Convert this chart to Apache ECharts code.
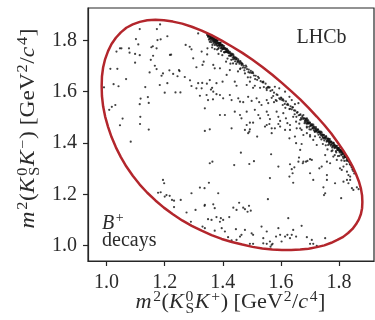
<!DOCTYPE html>
<html><head><meta charset="utf-8">
<script src="https://cdn.jsdelivr.net/npm/echarts@6/dist/echarts.min.js"></script>
<style>html,body{margin:0;padding:0;background:#fff;}#chart{width:375px;height:320px;}</style>
</head><body><div id="chart"></div>
<script>
// Axis ticks
const xTicks = [1.0, 1.2, 1.4, 1.6, 1.8];
const yTicks = [1.0, 1.2, 1.4, 1.6, 1.8];

// Kinematic boundary of D -> KS K+ K- : [m2(KS K+), m2(KS K-)], GeV^2/c^4
const boundary = [
[0.983,1.621],[0.984,1.583],[0.988,1.543],[0.995,1.503],[1.005,1.463],[1.017,1.423],[1.032,1.383],[1.049,1.345],
[1.068,1.308],[1.090,1.272],[1.114,1.238],[1.140,1.206],[1.168,1.176],[1.197,1.148],[1.228,1.122],[1.260,1.098],
[1.293,1.077],[1.327,1.058],[1.361,1.041],[1.396,1.026],[1.431,1.014],[1.467,1.004],[1.502,0.995],[1.536,0.989],
[1.570,0.985],[1.603,0.983],[1.635,0.983],[1.666,0.985],[1.695,0.988],[1.723,0.994],[1.749,1.001],[1.773,1.011],
[1.794,1.022],[1.814,1.034],[1.831,1.049],[1.846,1.065],[1.858,1.083],[1.868,1.102],[1.875,1.123],[1.879,1.146],
[1.880,1.170],[1.879,1.195],[1.875,1.222],[1.868,1.250],[1.858,1.279],[1.846,1.309],[1.831,1.340],
[1.814,1.371],[1.794,1.404],[1.773,1.437],[1.749,1.470],[1.723,1.503],[1.695,1.537],[1.666,1.570],[1.635,1.602],
[1.603,1.634],[1.570,1.666],[1.536,1.696],[1.502,1.724],[1.467,1.751],[1.431,1.776],[1.396,1.799],[1.361,1.820],
[1.327,1.838],[1.293,1.853],[1.260,1.865],[1.228,1.873],[1.197,1.878],[1.168,1.880],[1.140,1.878],[1.114,1.872],
[1.090,1.862],[1.068,1.849],[1.049,1.831],[1.032,1.810],[1.017,1.786],[1.005,1.758],[0.995,1.727],[0.988,1.694],
[0.984,1.659],[0.983,1.621]
];

// Candidates spread over the Dalitz plane
const events = [
[1.114,1.844],[1.173,1.844],[1.184,1.862],[1.101,1.805],[1.175,1.801],[1.186,1.804],[1.209,1.816],[1.046,1.769],
[1.051,1.769],[1.077,1.769],[1.109,1.784],[1.154,1.773],[1.159,1.777],[1.172,1.769],[1.034,1.756],[1.079,1.752],
[1.098,1.747],[1.114,1.742],[1.160,1.740],[1.218,1.743],[1.222,1.744],[1.272,1.782],[1.292,1.765],[1.327,1.756],
[1.347,1.769],[1.098,1.713],[1.152,1.724],[1.298,1.730],[1.334,1.717],[1.330,1.704],[1.309,1.695],[1.166,1.701],
[1.172,1.688],[1.013,1.689],[1.037,1.689],[1.216,1.683],[1.249,1.684],[1.251,1.680],[1.148,1.675],[1.194,1.671],
[1.189,1.662],[1.229,1.669],[1.244,1.660],[1.269,1.657],[1.287,1.644],[1.067,1.649],[1.315,1.633],[1.329,1.634],
[1.345,1.631],[1.209,1.633],[1.024,1.629],[1.041,1.621],[1.133,1.618],[1.183,1.626],[1.292,1.622],[1.309,1.613],
[1.327,1.613],[0.991,1.617],[1.359,1.608],[1.363,1.615],[1.200,1.596],[1.237,1.597],[1.254,1.597],[1.321,1.584],
[1.344,1.587],[1.117,1.573],[1.142,1.579],[1.366,1.570],[1.030,1.548],[1.018,1.541],[1.009,1.529],[1.114,1.551],
[1.145,1.556],[1.116,1.502],[1.055,1.495],[1.046,1.469],[1.115,1.474],[1.145,1.452],[1.338,1.447],[1.355,1.453],
[1.346,1.745],[1.367,1.704],[1.372,1.691],[1.390,1.691],[1.435,1.710],[1.424,1.684],[1.461,1.691],[1.476,1.671],
[1.413,1.665],[1.355,1.645],[1.378,1.633],[1.399,1.639],[1.441,1.639],[1.447,1.623],[1.482,1.626],[1.493,1.639],
[1.504,1.615],[1.510,1.623],[1.539,1.639],[1.551,1.606],[1.556,1.619],[1.579,1.619],[1.594,1.613],[1.614,1.600],
[1.629,1.580],[1.367,1.600],[1.378,1.590],[1.390,1.587],[1.349,1.567],[1.401,1.574],[1.424,1.587],[1.430,1.567],
[1.453,1.574],[1.459,1.561],[1.470,1.559],[1.487,1.580],[1.499,1.564],[1.516,1.574],[1.525,1.559],[1.533,1.548],
[1.551,1.567],[1.556,1.555],[1.568,1.576],[1.576,1.559],[1.585,1.564],[1.602,1.574],[1.606,1.548],[1.637,1.567],
[1.648,1.551],[1.660,1.555],[1.338,1.535],[1.390,1.509],[1.407,1.509],[1.441,1.522],[1.459,1.509],[1.464,1.496],
[1.482,1.522],[1.510,1.529],[1.522,1.509],[1.528,1.496],[1.551,1.522],[1.556,1.509],[1.562,1.493],[1.585,1.522],
[1.591,1.502],[1.597,1.486],[1.608,1.516],[1.617,1.496],[1.622,1.477],[1.642,1.502],[1.652,1.483],[1.666,1.490],
[1.677,1.509],[1.689,1.496],[1.482,1.470],[1.476,1.451],[1.430,1.457],[1.551,1.470],[1.568,1.457],[1.597,1.464],
[1.614,1.451],[1.631,1.470],[1.654,1.457],[1.671,1.451],[1.493,1.479],[1.504,1.479],[1.491,1.444],[1.487,1.438],
[1.493,1.453],[1.518,1.425],[1.545,1.464],[1.560,1.474],[1.568,1.438],[1.579,1.457],[1.591,1.474],[1.631,1.451],
[1.629,1.418],[1.648,1.425],[1.666,1.457],[1.677,1.431],[1.689,1.464],[1.700,1.431],[1.711,1.412],[1.723,1.392],
[1.652,1.399],[1.666,1.373],[1.671,1.396],[1.462,1.362],[1.566,1.356],[1.355,1.321],[1.364,1.327],[1.439,1.314],
[1.491,1.318],[1.507,1.329],[1.591,1.308],[1.631,1.317],[1.637,1.298],[1.646,1.305],[1.662,1.343],[1.675,1.321],
[1.686,1.327],[1.700,1.337],[1.660,1.327],[1.629,1.269],[1.640,1.282],[1.642,1.245],[1.562,1.263],[1.337,1.224],
[1.321,1.226],[1.352,1.245],[1.384,1.204],[1.555,1.181],[1.456,1.167],[1.470,1.148],[1.476,1.142],[1.490,1.155],
[1.496,1.136],[1.485,1.132],[1.367,1.161],[1.372,1.146],[1.337,1.155],[1.436,1.148],[1.447,1.139],[1.349,1.103],
[1.361,1.100],[1.378,1.111],[1.393,1.107],[1.401,1.100],[1.390,1.093],[1.422,1.111],[1.625,1.107],[1.330,1.074],
[1.338,1.068],[1.372,1.058],[1.396,1.068],[1.407,1.055],[1.445,1.064],[1.476,1.061],[1.464,1.042],[1.459,1.035],
[1.499,1.048],[1.504,1.042],[1.533,1.074],[1.539,1.029],[1.551,1.055],[1.562,1.016],[1.568,1.003],[1.564,0.996],
[1.571,1.007],[1.591,1.068],[1.597,1.042],[1.583,1.035],[1.614,1.035],[1.622,1.042],[1.631,1.029],[1.637,1.042],
[1.652,1.035],[1.671,1.077],[1.689,1.033],[1.504,1.007],[1.493,1.007],[1.418,1.033],[1.430,1.020],[1.447,1.022],
[1.700,1.007],[1.711,1.007],[1.723,0.999],[1.539,1.009],[1.551,1.007],[1.602,1.016],[1.083,1.405],[1.194,1.256],
[1.198,1.243],[1.177,1.206],[1.186,1.208],[1.206,1.197],[1.200,1.191],[1.217,1.194],[1.225,1.178],[1.232,1.175],
[1.255,1.178],[1.292,1.204],[1.232,1.150],[1.275,1.129],[1.306,1.139],[1.338,1.159],[1.290,1.093],[1.689,1.438],
[1.700,1.425],[1.717,1.444],[1.677,1.327],[1.691,1.330],[1.706,1.334],[1.752,1.353],[1.758,1.327],[1.732,1.301],
[1.740,1.308],[1.758,1.275],[1.758,1.256],[1.786,1.243],[1.803,1.301],[1.809,1.295],[1.815,1.308],[1.827,1.288],
[1.832,1.275],[1.838,1.269],[1.815,1.249],[1.827,1.256],[1.838,1.256],[1.832,1.243],[1.844,1.224],[1.849,1.217],
[1.861,1.227],[1.867,1.220],[1.746,1.227],[1.748,1.197],[1.807,1.185],[1.780,1.347],[1.792,1.334],[1.769,1.321],
[1.752,1.204],[1.706,1.022],[1.752,1.029],[1.642,1.061],[1.711,1.256],[1.700,1.282],[1.315,1.827],[1.286,1.775]
];

// Narrow band of candidates along the phi(1020) -> K+ K- resonance
const phiBand = [
[1.346,1.821],[1.348,1.822],[1.350,1.815],[1.351,1.820],[1.353,1.820],[1.354,1.807],[1.355,1.814],[1.357,1.817],
[1.358,1.809],[1.359,1.812],[1.361,1.815],[1.362,1.802],[1.363,1.809],[1.364,1.813],[1.366,1.802],[1.367,1.807],
[1.368,1.789],[1.369,1.809],[1.371,1.799],[1.372,1.803],[1.373,1.793],[1.375,1.804],[1.376,1.796],[1.377,1.786],
[1.379,1.797],[1.380,1.789],[1.381,1.799],[1.383,1.788],[1.384,1.767],[1.385,1.790],[1.387,1.780],[1.388,1.790],
[1.390,1.782],[1.391,1.790],[1.393,1.769],[1.394,1.780],[1.396,1.773],[1.397,1.780],[1.399,1.766],[1.401,1.774],
[1.403,1.768],[1.404,1.778],[1.406,1.753],[1.408,1.765],[1.410,1.768],[1.412,1.756],[1.414,1.761],[1.416,1.729],
[1.418,1.761],[1.420,1.750],[1.423,1.751],[1.425,1.740],[1.428,1.749],[1.430,1.741],[1.433,1.747],[1.435,1.726],
[1.438,1.735],[1.440,1.728],[1.443,1.733],[1.446,1.708],[1.448,1.730],[1.451,1.719],[1.454,1.720],[1.457,1.709],
[1.460,1.719],[1.463,1.709],[1.466,1.710],[1.469,1.694],[1.472,1.701],[1.476,1.693],[1.479,1.702],[1.483,1.688],
[1.486,1.656],[1.489,1.686],[1.493,1.674],[1.496,1.681],[1.499,1.673],[1.502,1.677],[1.507,1.663],[1.513,1.662],
[1.518,1.646],[1.524,1.653],[1.530,1.641],[1.536,1.637],[1.541,1.618],[1.547,1.631],[1.553,1.616],[1.558,1.616],
[1.564,1.603],[1.570,1.606],[1.576,1.596],[1.582,1.567],[1.588,1.587],[1.594,1.574],[1.600,1.577],[1.604,1.567],
[1.609,1.565],[1.613,1.552],[1.617,1.562],[1.621,1.549],[1.625,1.548],[1.629,1.532],[1.633,1.543],[1.637,1.531],
[1.641,1.539],[1.645,1.527],[1.649,1.526],[1.653,1.502],[1.657,1.520],[1.661,1.508],[1.665,1.509],[1.669,1.497],
[1.673,1.505],[1.677,1.494],[1.680,1.496],[1.682,1.485],[1.684,1.489],[1.686,1.493],[1.688,1.475],[1.690,1.485],
[1.692,1.478],[1.694,1.487],[1.696,1.476],[1.698,1.453],[1.700,1.477],[1.702,1.466],[1.704,1.470],[1.706,1.474],
[1.708,1.457],[1.710,1.466],[1.712,1.459],[1.714,1.464],[1.716,1.444],[1.718,1.455],[1.720,1.462],[1.722,1.447],
[1.724,1.451],[1.726,1.440],[1.728,1.451],[1.730,1.442],[1.732,1.445],[1.734,1.422],[1.736,1.438],[1.738,1.430],
[1.740,1.441],[1.742,1.429],[1.744,1.432],[1.746,1.418],[1.748,1.430],[1.750,1.420],[1.752,1.421],[1.754,1.391],
[1.756,1.423],[1.758,1.409],[1.760,1.415],[1.761,1.408],[1.763,1.417],[1.764,1.408],[1.766,1.396],[1.767,1.410],
[1.769,1.401],[1.770,1.404],[1.772,1.394],[1.773,1.405],[1.775,1.396],[1.776,1.382],[1.778,1.398],[1.779,1.389],
[1.781,1.400],[1.782,1.391],[1.784,1.380],[1.785,1.392],[1.787,1.383],[1.788,1.387],[1.790,1.363],[1.791,1.388],
[1.793,1.379],[1.794,1.373],[1.796,1.380],[1.797,1.372],[1.799,1.375],[1.800,1.380],[1.802,1.363],[1.803,1.372],
[1.805,1.366],[1.806,1.372],[1.808,1.353],[1.809,1.364],[1.811,1.366],[1.812,1.356],[1.814,1.360],[1.815,1.340],
[1.817,1.359],[1.818,1.352],[1.820,1.353],[1.821,1.345],[1.823,1.352],[1.824,1.345],[1.826,1.346],[1.827,1.336],
[1.829,1.340],[1.831,1.333],[1.833,1.334],[1.835,1.324],[1.838,1.323],[1.841,1.312],[1.844,1.307],[1.847,1.299],
[1.349,1.814],[1.352,1.816],[1.356,1.808],[1.360,1.809],[1.365,1.810],[1.370,1.795],[1.374,1.799],[1.378,1.801],
[1.382,1.778],[1.386,1.790],[1.389,1.780],[1.392,1.785],[1.395,1.771],[1.398,1.782],[1.402,1.768],[1.405,1.771],
[1.409,1.755],[1.413,1.764],[1.417,1.755],[1.427,1.740],[1.437,1.739],[1.445,1.726],[1.765,1.401],[1.771,1.405],
[1.777,1.387],[1.783,1.395],[1.789,1.382],[1.795,1.382],[1.801,1.368],[1.807,1.369],[1.813,1.358],[1.819,1.348],
[1.825,1.348],[1.832,1.330],[1.839,1.317],[1.743,1.424],[1.733,1.442],[1.719,1.450],[1.705,1.468],[1.691,1.476],
[1.352,1.803],[1.355,1.794],[1.358,1.801],[1.360,1.793],[1.362,1.808],[1.364,1.782],[1.366,1.796],[1.368,1.801],
[1.370,1.806],[1.372,1.782],[1.374,1.790],[1.376,1.802],[1.378,1.781],[1.380,1.792],[1.382,1.799],[1.384,1.781],
[1.386,1.771],[1.388,1.786],[1.390,1.778],[1.392,1.790],[1.394,1.758],[1.396,1.779],[1.398,1.765],[1.400,1.779],
[1.402,1.769],[1.404,1.754],[1.407,1.770],[1.409,1.764],[1.411,1.755],[1.414,1.767],[1.416,1.753],[1.419,1.757],
[1.421,1.740],[1.424,1.755],[1.426,1.745],[1.429,1.724],[1.431,1.744],[1.434,1.733],[1.436,1.744],[1.439,1.731],
[1.442,1.718],[1.444,1.733],[1.447,1.726],[1.450,1.715],[1.453,1.726],[1.456,1.715],[1.459,1.688],[1.462,1.714],
[1.465,1.703],[1.468,1.707],[1.474,1.683],[1.481,1.697],[1.488,1.676],[1.495,1.656],[1.504,1.672],[1.511,1.649],
[1.521,1.658],[1.528,1.615],[1.539,1.636],[1.550,1.613],[1.561,1.617],[1.573,1.583],[1.585,1.589],[1.597,1.570],
[1.607,1.570],[1.615,1.537],[1.623,1.552],[1.631,1.533],[1.639,1.539],[1.647,1.512],[1.655,1.518],[1.663,1.475],
[1.667,1.512],[1.671,1.492],[1.675,1.499],[1.681,1.477],[1.683,1.495],[1.685,1.480],[1.687,1.487],[1.689,1.460],
[1.691,1.491],[1.693,1.476],[1.695,1.480],[1.697,1.463],[1.699,1.480],[1.701,1.470],[1.703,1.452],[1.707,1.470],
[1.709,1.458],[1.711,1.472],[1.713,1.450],[1.715,1.459],[1.717,1.426],[1.721,1.456],[1.723,1.445],[1.727,1.453],
[1.729,1.432],[1.731,1.442],[1.735,1.435],[1.737,1.444],[1.739,1.414],[1.741,1.434],[1.745,1.421],[1.747,1.432],
[1.749,1.410],[1.751,1.423],[1.753,1.416],[1.755,1.427],[1.757,1.405],[1.759,1.417],[1.762,1.392],[1.764,1.415],
[1.766,1.405],[1.768,1.415],[1.771,1.390],[1.774,1.403],[1.777,1.371],[1.780,1.400],[1.783,1.384],[1.786,1.389],
[1.789,1.368],[1.792,1.389],[1.795,1.375],[1.798,1.380],[1.801,1.350],[1.804,1.373],[1.807,1.357],[1.810,1.365],
[1.813,1.346],[1.816,1.360],[1.819,1.344],[1.822,1.351],[1.825,1.331],[1.828,1.341],[1.830,1.331],[1.834,1.329],
[1.837,1.316],[1.840,1.317],[1.843,1.305],[1.846,1.296],[1.849,1.290],[1.852,1.281],[1.826,1.317],[1.818,1.330],
[1.808,1.332],[1.796,1.349],[1.785,1.353],[1.774,1.368],[1.760,1.375],[1.744,1.396],[1.372,1.766],[1.385,1.747],
[1.398,1.742],[1.411,1.717],[1.426,1.709],[1.452,1.679],[1.363,1.772],[1.380,1.764]
];

// ---- text layout helpers (LaTeX-like labels built from pieces) ----
const FONT = '"Liberation Serif", "Times New Roman", serif';
const INK = '#2b2b2b';
const meas = document.createElement('canvas').getContext('2d');
function textWidth(t, size, italic) {
  meas.font = (italic ? 'italic ' : '') + size + 'px ' + FONT;
  return meas.measureText(t).width;
}
function piece(t, x, base, size, italic) {
  return {
    type: 'text', x: x, y: base - 0.34 * size, silent: true,
    style: {
      text: t, fill: INK, font: (italic ? 'italic ' : '') + size + 'px ' + FONT,
      align: 'left', verticalAlign: 'middle', textAlign: 'left', textVerticalAlign: 'middle'
    }
  };
}
// parts: [text, kind] ; kind: 'n' upright, 'i' italic, 'p' superscript, 'st' stacked [sup, sub]
function mathLabel(parts, S) {
  const s = Math.round(S * 0.7), up = -0.4 * S, dn = 0.22 * S;
  const kids = []; let x = 0;
  parts.forEach(([t, k]) => {
    if (k === 'st') {
      kids.push(piece(t[0], x + 0.5, up, s, false));
      kids.push(piece(t[1], x + 0.5, dn, s, false));
      x += Math.max(textWidth(t[0], s), textWidth(t[1], s)) + 1;
    } else if (k === 'p') {
      kids.push(piece(t, x + 0.5, up, s, false));
      x += textWidth(t, s) + 1;
    } else {
      const it = k === 'i';
      kids.push(piece(t, x, 0, S, it));
      x += textWidth(t, S, it) + (it ? 1 : 0);
    }
  });
  return { kids, width: x };
}
function centredLabel(parts, S, cx, base, targetW, rot) {
  const m = mathLabel(parts, S);
  m.kids.forEach(c => { c.x -= m.width / 2; });
  return { type: 'group', x: cx, y: base, rotation: rot || 0,
           scaleX: targetW / m.width, children: m.kids, silent: true };
}

const xTitle = [['m','i'],['2','p'],['(','n'],['K','i'],[['0','S'],'st'],['K','i'],['+','p'],[') [GeV','n'],['2','p'],['/','n'],['c','i'],['4','p'],[']','n']];
const yTitle = [['m','i'],['2','p'],['(','n'],['K','i'],[['0','S'],'st'],['K','i'],['\u2212','p'],[') [GeV','n'],['2','p'],['/','n'],['c','i'],['4','p'],[']','n']];
const bLabel = mathLabel([['B','i'],['+','p']], 20);

const chart = echarts.init(document.getElementById('chart'), null, { renderer: 'canvas' });
const axisCommon = {
  type: 'value',
  axisLine: { show: true, lineStyle: { color: '#262626', width: 1.2 } },
  axisTick: { show: true, inside: false, length: 5, lineStyle: { color: '#262626', width: 1.2 } },
  axisLabel: { fontFamily: FONT, fontSize: 20, color: INK, formatter: v => v.toFixed(1) },
  splitLine: { show: false }
};
chart.setOption({
  animation: false,
  grid: { left: 88, right: 1, top: 8, bottom: 59, show: true, borderColor: '#262626', borderWidth: 1.2, backgroundColor: '#fff' },
  xAxis: Object.assign({}, axisCommon, {
    min: 0.936, max: 1.920,
    axisTick: Object.assign({}, axisCommon.axisTick, { customValues: xTicks }),
    axisLabel: Object.assign({}, axisCommon.axisLabel, { customValues: xTicks, margin: 12 })
  }),
  yAxis: Object.assign({}, axisCommon, {
    min: 0.940, max: 1.926,
    axisTick: Object.assign({}, axisCommon.axisTick, { customValues: yTicks }),
    axisLabel: Object.assign({}, axisCommon.axisLabel, { customValues: yTicks, margin: 11 })
  }),
  series: [
    { type: 'scatter', data: events, symbol: 'circle', symbolSize: 2.2, itemStyle: { color: '#111' }, silent: true, z: 2 },
    { type: 'scatter', data: phiBand, symbol: 'circle', symbolSize: 2.2, itemStyle: { color: '#111' }, silent: true, z: 2 },
    { type: 'line', data: boundary, showSymbol: false, smooth: false, silent: true, z: 3,
      lineStyle: { color: '#b3262c', width: 2.5 } }
  ],
  graphic: { elements: [
    centredLabel(xTitle, 20, 230.5, 310, 190, 0),
    centredLabel(yTitle, 20, 36, 128.5, 200, Math.PI / 2),
    { type: 'text', x: 321.5, y: 45 - 0.34 * 20, silent: true,
      style: { text: 'LHCb', fill: INK, font: '20px ' + FONT, align: 'center', verticalAlign: 'middle', textAlign: 'center', textVerticalAlign: 'middle' } },
    { type: 'group', x: 102, y: 231, children: bLabel.kids, silent: true },
    { type: 'text', x: 102, y: 248 - 0.34 * 20, silent: true,
      style: { text: 'decays', fill: INK, font: '20px ' + FONT, align: 'left', verticalAlign: 'middle', textAlign: 'left', textVerticalAlign: 'middle' } }
  ]}
});
</script></body></html>
